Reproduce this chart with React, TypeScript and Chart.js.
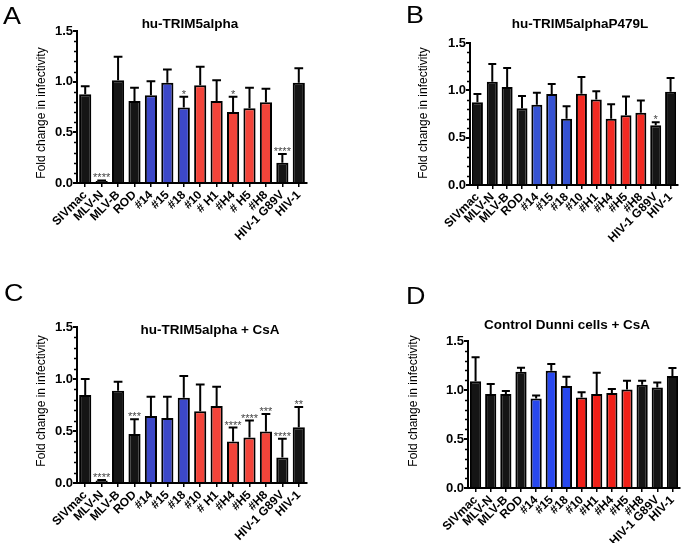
import React, { useEffect, useRef } from "react";
import { Chart, registerables } from "chart.js";
Chart.register(...registerables);

const FONT = '"Liberation Sans", Arial, Helvetica, sans-serif';
const W = 685;
const H = 543;

// ---------- data ----------
const labelsA = ["SIVmac", "MLV-N", "MLV-B", "ROD", "#14", "#15", "#18", "#10", "# H1", "#H4", "# H5", "#H8", "HIV-1 G89V", "HIV-1"];
const labelsB = ["SIVmac", "MLV-N", "MLV-B", "ROD", "#14", "#15", "#18", "#10", "#H1", "#H4", "#H5", "#H8", "HIV-1 G89V", "HIV-1"];
const labelsC = ["SIVmac", "MLV-N", "MLV-B", "ROD", "#14", "#15", "#18", "#10", "# H1", "#H4", "#H5", "#H8", "HIV-1 G89V", "HIV-1"];
const labelsD = ["SIVmac", "MLV-N", "MLV-B", "ROD", "#14", "#15", "#18", "#10", "#H1", "#H4", "#H5", "#H8", "HIV-1 G89V", "HIV-1"];

const groupsABC = ["k", "k", "k", "k", "b", "b", "b", "r", "r", "r", "r", "r", "k", "k"];
const groupsD = ["k", "k", "k", "k", "b", "b", "b", "r", "r", "r", "r", "k", "k", "k"];

const valuesA = [0.875, 0.02, 1.015, 0.81, 0.865, 0.99, 0.745, 0.965, 0.81, 0.70, 0.737, 0.796, 0.20, 0.99];
const errorsA = [0.081, 0.005, 0.23, 0.13, 0.14, 0.13, 0.105, 0.181, 0.205, 0.15, 0.203, 0.134, 0.085, 0.143];
const starsA = ["", "****", "", "", "", "", "*", "", "", "*", "", "", "****", ""];

const valuesB = [0.875, 1.09, 1.034, 0.81, 0.847, 0.96, 0.70, 0.963, 0.904, 0.70, 0.738, 0.762, 0.632, 0.985];
const errorsB = [0.085, 0.188, 0.201, 0.13, 0.127, 0.106, 0.133, 0.177, 0.086, 0.154, 0.197, 0.131, 0.032, 0.145];
const starsB = ["", "", "", "", "", "", "", "", "", "", "", "", "*", ""];

const valuesC = [0.846, 0.025, 0.887, 0.472, 0.645, 0.626, 0.82, 0.69, 0.74, 0.40, 0.437, 0.495, 0.246, 0.536];
const errorsC = [0.154, 0.005, 0.086, 0.141, 0.185, 0.204, 0.21, 0.258, 0.186, 0.133, 0.163, 0.169, 0.179, 0.194];
const starsC = ["", "****", "", "***", "", "", "", "", "", "****", "****", "***", "****", "**"];

const valuesD = [1.09, 0.96, 0.958, 1.186, 0.914, 1.197, 1.04, 0.924, 0.958, 0.97, 1.006, 1.053, 1.026, 1.142];
const errorsD = [0.243, 0.10, 0.032, 0.041, 0.03, 0.068, 0.095, 0.054, 0.218, 0.04, 0.088, 0.041, 0.051, 0.082];
const starsD = ["", "", "", "", "", "", "", "", "", "", "", "", "", ""];

const yTickValues = [0, 0.5, 1.0, 1.5];

type Panel = {
  labels: string[];
  values: number[];
  errors: number[];
  groups: string[];
  stars: string[];
  colors: Record<string, string>;
  area: { l: number; t: number; r: number; b: number };
  letter: string;
  letterPos: [number, number];
  title: string;
  titlePos: [number, number];
  yTitlePos: [number, number];
};

const panels: Panel[] = [
  {
    labels: labelsA, values: valuesA, errors: errorsA, groups: groupsABC, stars: starsA,
    colors: { k: "#151515", b: "#3c48c8", r: "#f2443a" },
    area: { l: 77, t: 31, r: 307, b: 183 },
    letter: "A", letterPos: [3, 24],
    title: "hu-TRIM5alpha", titlePos: [190, 28],
    yTitlePos: [42, 113],
  },
  {
    labels: labelsB, values: valuesB, errors: errorsB, groups: groupsABC, stars: starsB,
    colors: { k: "#151515", b: "#3552d2", r: "#f22a22" },
    area: { l: 470, t: 43, r: 678, b: 185 },
    letter: "B", letterPos: [406, 23],
    title: "hu-TRIM5alphaP479L", titlePos: [580, 28],
    yTitlePos: [424, 113],
  },
  {
    labels: labelsC, values: valuesC, errors: errorsC, groups: groupsABC, stars: starsC,
    colors: { k: "#151515", b: "#3c48c8", r: "#f2443a" },
    area: { l: 77, t: 327, r: 307, b: 483 },
    letter: "C", letterPos: [4, 301],
    title: "hu-TRIM5alpha + CsA", titlePos: [210, 334],
    yTitlePos: [42, 401],
  },
  {
    labels: labelsD, values: valuesD, errors: errorsD, groups: groupsD, stars: starsD,
    colors: { k: "#151515", b: "#2848ee", r: "#f02018" },
    area: { l: 468, t: 341, r: 680, b: 488 },
    letter: "D", letterPos: [406, 304],
    title: "Control Dunni cells + CsA", titlePos: [567, 329],
    yTitlePos: [414, 401],
  },
];

function makeDeco(p: Panel) {
  return {
    id: "deco" + p.letter,
    afterDatasetsDraw(chart: any) {
      const ctx = chart.ctx;
      const ys = chart.scales.y;
      const meta = chart.getDatasetMeta(0);
      ctx.save();
      meta.data.forEach((el: any, i: number) => {
        const top = p.values[i] + p.errors[i];
        const yE = ys.getPixelForValue(top);
        const half = el.width * 0.36;
        ctx.strokeStyle = "#000";
        ctx.lineWidth = 2;
        ctx.beginPath();
        ctx.moveTo(el.x, el.y);
        ctx.lineTo(el.x, yE);
        ctx.moveTo(el.x - half, yE);
        ctx.lineTo(el.x + half, yE);
        ctx.stroke();
        if (p.stars[i]) {
          ctx.fillStyle = "#444";
          ctx.font = "11px " + FONT;
          ctx.textAlign = "center";
          ctx.textBaseline = "alphabetic";
          ctx.fillText(p.stars[i], el.x, yE + 1);
        }
      });
      ctx.restore();
    },
    afterDraw(chart: any) {
      const ctx = chart.ctx;
      const ys = chart.scales.y;
      const area = chart.chartArea;
      ctx.save();
      // minor ticks
      ctx.strokeStyle = "#000";
      ctx.lineWidth = 1.5;
      for (let k = 1; k < 15; k++) {
        if (k % 5 === 0) continue;
        const y = Math.round(ys.getPixelForValue(k / 10)) + 0.5;
        ctx.beginPath();
        ctx.moveTo(area.left - 3, y);
        ctx.lineTo(area.left, y);
        ctx.stroke();
      }
      ctx.fillStyle = "#000";
      // panel letter
      ctx.save();
      ctx.translate(p.letterPos[0], p.letterPos[1]);
      ctx.scale(1.12, 1);
      ctx.font = "24px " + FONT;
      ctx.textAlign = "left";
      ctx.textBaseline = "alphabetic";
      ctx.fillText(p.letter, 0, 0);
      ctx.restore();
      // title
      ctx.font = "bold 13.5px " + FONT;
      ctx.textAlign = "center";
      ctx.textBaseline = "alphabetic";
      ctx.fillText(p.title, p.titlePos[0], p.titlePos[1]);
      // y title
      ctx.translate(p.yTitlePos[0], p.yTitlePos[1]);
      ctx.rotate(-Math.PI / 2);
      ctx.font = "12px " + FONT;
      ctx.textBaseline = "middle";
      ctx.fillText("Fold change in infectivity", 0, 0);
      ctx.restore();
    },
  };
}

function PanelChart({ p }: { p: Panel }) {
  const ref = useRef<HTMLCanvasElement | null>(null);
  useEffect(() => {
    if (!ref.current) return;
    const chart = new Chart(ref.current, {
      type: "bar",
      data: {
        labels: p.labels,
        datasets: [
          {
            data: p.values,
            backgroundColor: p.groups.map((g) => p.colors[g]),
            borderColor: "#000",
            borderWidth: 2,
            barPercentage: 0.74,
            categoryPercentage: 1,
          },
        ],
      },
      options: {
        responsive: false,
        animation: false,
        devicePixelRatio: 1,
        layout: { padding: { left: 0, top: p.area.t, right: W - p.area.r, bottom: 0 } },
        plugins: { legend: { display: false }, tooltip: { enabled: false }, title: { display: false } },
        scales: {
          x: {
            grid: { display: true, drawOnChartArea: false, offset: false, tickLength: 4, color: "#000", lineWidth: 1.5 },
            border: { display: true, color: "#000", width: 2 },
            ticks: {
              autoSkip: false,
              minRotation: 45,
              maxRotation: 45,
              padding: 1,
              color: "#000",
              font: { family: FONT, size: 12, weight: "bold" },
            },
            afterFit: (s: any) => {
              s.height = H - p.area.b;
            },
          },
          y: {
            min: 0,
            max: 1.5,
            afterBuildTicks: (s: any) => {
              s.ticks = yTickValues.map((v) => ({ value: v }));
            },
            grid: { display: true, drawOnChartArea: false, tickLength: 4, color: "#000", lineWidth: 2 },
            border: { display: true, color: "#000", width: 2 },
            ticks: {
              padding: 0,
              color: "#000",
              font: { family: FONT, size: 13, weight: "bold" },
              callback: (v: any) => Number(v).toFixed(1),
            },
            afterFit: (s: any) => {
              s.width = p.area.l;
            },
          },
        },
      },
      plugins: [makeDeco(p)],
    } as any);
    return () => chart.destroy();
  }, [p]);
  return (
    <canvas
      ref={ref}
      width={W}
      height={H}
      style={{ position: "absolute", left: 0, top: 0, width: W, height: H }}
    />
  );
}

export default function App() {
  return (
    <div style={{ position: "fixed", left: 0, top: 0, width: W, height: H, background: "#fff", overflow: "hidden" }}>
      {panels.map((p) => (
        <PanelChart key={p.letter} p={p} />
      ))}
    </div>
  );
}
